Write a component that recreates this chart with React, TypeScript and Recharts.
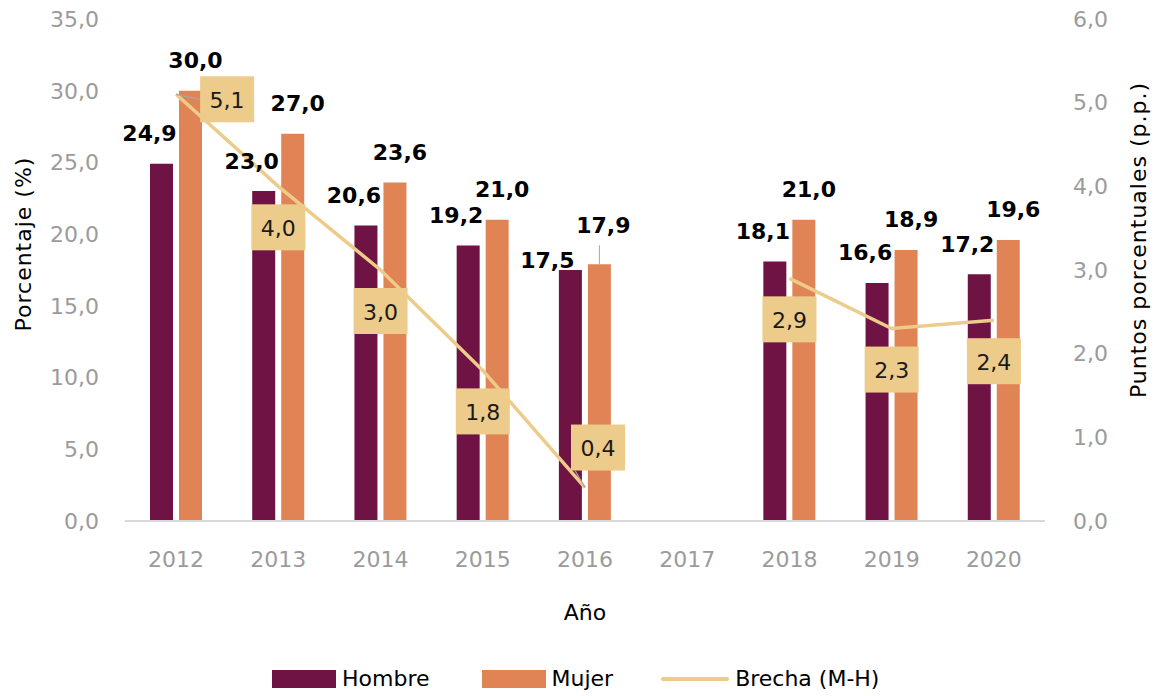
import { ComposedChart, Bar, Line, XAxis, YAxis, LabelList } from "recharts";

const years = ["2012", "2013", "2014", "2015", "2016", "2017", "2018", "2019", "2020"];
const hombre = [24.9, 23.0, 20.6, 19.2, 17.5, null, 18.1, 16.6, 17.2];
const mujer = [30.0, 27.0, 23.6, 21.0, 17.9, null, 21.0, 18.9, 19.6];
const brecha = [5.1, 4.0, 3.0, 1.8, 0.4, null, 2.9, 2.3, 2.4];
const leftTicks = [0, 5, 10, 15, 20, 25, 30, 35];
const rightTicks = [0, 1, 2, 3, 4, 5, 6];

const data = years.map((y, i) => ({
  year: y,
  hombre: hombre[i],
  mujer: mujer[i],
  brecha: brecha[i],
}));

const FONT = "DejaVu Sans";
const C_HOMBRE = "#6e1343";
const C_MUJER = "#e08455";
const C_BRECHA = "#edcb8a";
const GRAY = "#9b9b9b";

const fmt = (v: number) => v.toFixed(1).replace(".", ",");

// a few labels are moved by hand, like in the original
const hombreNudge: Record<number, [number, number]> = { 4: [-23, -10] };
const mujerNudge: Record<number, [number, number]> = { 4: [4, -39] };
const brechaNudge: Record<number, [number, number]> = { 0: [51, 5], 4: [13, -40] };

function HombreLabel(props: any) {
  const { x, y, width, value, index } = props;
  if (value == null) return null;
  const [dx, dy] = hombreNudge[index] ?? [-12, -30];
  return (
    <text x={x + width / 2 + dx} y={y + dy} textAnchor="middle" dominantBaseline="central"
      fontFamily={FONT} fontSize={22} fontWeight="bold" fill="#000">
      {fmt(value)}
    </text>
  );
}

function MujerLabel(props: any) {
  const { x, y, width, value, index } = props;
  if (value == null) return null;
  const [dx, dy] = mujerNudge[index] ?? [5, -30];
  const cx = x + width / 2;
  return (
    <g>
      {mujerNudge[index] && (
        <line x1={cx} y1={y} x2={cx} y2={y + dy + 20} stroke="#a6a6a6" strokeWidth={1} />
      )}
      <text x={cx + dx} y={y + dy} textAnchor="middle" dominantBaseline="central"
        fontFamily={FONT} fontSize={22} fontWeight="bold" fill="#000">
        {fmt(value)}
      </text>
    </g>
  );
}

function BrechaLabel(props: any) {
  const { x, y, value, index } = props;
  if (value == null) return null;
  const [dx, dy] = brechaNudge[index] ?? [0, 41];
  const cx = x + dx;
  const cy = y + dy;
  const w = 54;
  const h = 46;
  return (
    <g>
      {brechaNudge[index] && (
        <line x1={x} y1={y} x2={dx > 30 ? cx - w / 2 : cx - w / 2 + 4} y2={dx > 30 ? cy : cy + h / 2}
          stroke="#a6a6a6" strokeWidth={1.2} />
      )}
      <rect x={cx - w / 2} y={cy - h / 2} width={w} height={h} fill={C_BRECHA} />
      <text x={cx} y={cy + 1} textAnchor="middle" dominantBaseline="central"
        fontFamily={FONT} fontSize={22} fill="#1a1a1a">
        {fmt(value)}
      </text>
    </g>
  );
}

function LeftTitle(props: any) {
  const { viewBox } = props;
  const cx = viewBox.x + 23;
  const cy = viewBox.y + viewBox.height / 2 - 26;
  return (
    <text x={cx} y={cy} transform={`rotate(-90, ${cx}, ${cy})`} textAnchor="middle"
      dominantBaseline="central" fontFamily={FONT} fontSize={22} letterSpacing={1} fill="#000">
      Porcentaje (%)
    </text>
  );
}

function RightTitle(props: any) {
  const { viewBox } = props;
  const cx = viewBox.x + 93;
  const cy = viewBox.y + viewBox.height / 2 - 30;
  return (
    <text x={cx} y={cy} transform={`rotate(-90, ${cx}, ${cy})`} textAnchor="middle"
      dominantBaseline="central" fontFamily={FONT} fontSize={22} letterSpacing={1} fill="#000">
      Puntos porcentuales (p.p.)
    </text>
  );
}

function XTitle(props: any) {
  const { viewBox } = props;
  return (
    <text x={viewBox.x + viewBox.width / 2} y={612} textAnchor="middle" dominantBaseline="central"
      fontFamily={FONT} fontSize={22} fill="#000">
      Año
    </text>
  );
}

function Legend() {
  const item = { display: "flex", alignItems: "center", gap: 6 } as const;
  return (
    <div style={{
      position: "absolute", left: 272, top: 666, display: "flex", alignItems: "center",
      fontFamily: FONT, fontSize: 22, color: "#000", whiteSpace: "nowrap",
    }}>
      <div style={item}>
        <div style={{ width: 64, height: 18, background: C_HOMBRE }} />
        <span>Hombre</span>
      </div>
      <div style={{ ...item, marginLeft: 52 }}>
        <div style={{ width: 64, height: 18, background: C_MUJER }} />
        <span>Mujer</span>
      </div>
      <div style={{ ...item, marginLeft: 48 }}>
        <div style={{ width: 68, height: 4, borderRadius: 2, background: C_BRECHA }} />
        <span>Brecha (M-H)</span>
      </div>
    </div>
  );
}

export default function App() {
  return (
    <div style={{ position: "absolute", left: 0, top: 0, width: 1156, height: 696, background: "#fff" }}>
      <ComposedChart width={1156} height={696} data={data} barSize={23} barGap={6}
        margin={{ top: 19, right: 0, bottom: 75, left: 0 }}>
        <XAxis dataKey="year" axisLine={{ stroke: "#d9d9d9", strokeWidth: 2 }} tickLine={false}
          tick={{ fill: GRAY, fontSize: 22, fontFamily: FONT }} tickMargin={24} height={100}
          label={<XTitle />} />
        <YAxis yAxisId="left" domain={[0, 35]} ticks={leftTicks} width={125} axisLine={false}
          tickLine={false} tickMargin={20} tickFormatter={fmt}
          tick={{ fill: GRAY, fontSize: 22, fontFamily: FONT }} label={<LeftTitle />} />
        <YAxis yAxisId="right" orientation="right" domain={[0, 6]} ticks={rightTicks} width={111}
          axisLine={false} tickLine={false} tickMargin={22} tickFormatter={fmt}
          tick={{ fill: GRAY, fontSize: 22, fontFamily: FONT }} label={<RightTitle />} />
        <Bar yAxisId="left" dataKey="hombre" name="Hombre" fill={C_HOMBRE} isAnimationActive={false}>
          <LabelList dataKey="hombre" content={<HombreLabel />} />
        </Bar>
        <Bar yAxisId="left" dataKey="mujer" name="Mujer" fill={C_MUJER} isAnimationActive={false}>
          <LabelList dataKey="mujer" content={<MujerLabel />} />
        </Bar>
        <Line yAxisId="right" dataKey="brecha" name="Brecha (M-H)" stroke={C_BRECHA} strokeWidth={3.5}
          dot={false} activeDot={false} type="linear" isAnimationActive={false}>
          <LabelList dataKey="brecha" content={<BrechaLabel />} />
        </Line>
      </ComposedChart>
      <Legend />
    </div>
  );
}
